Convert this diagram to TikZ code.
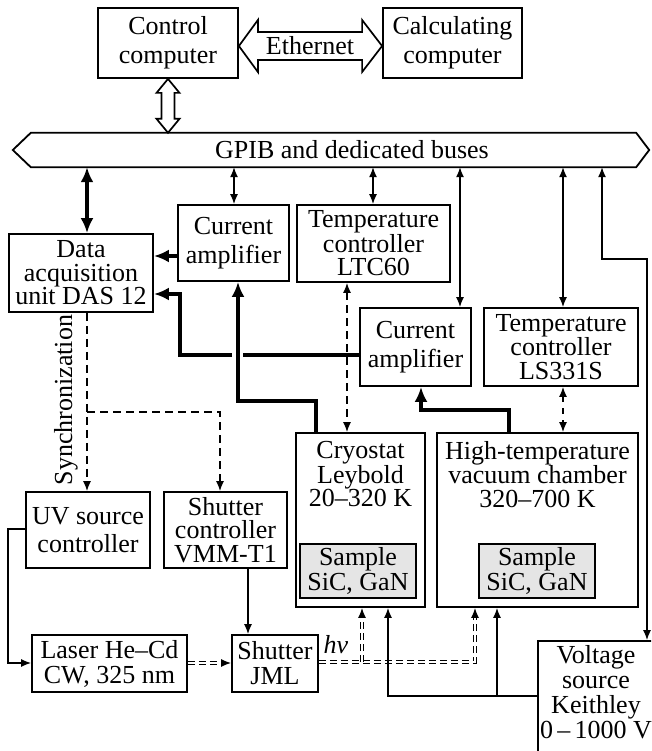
\documentclass[tikz,border=0pt]{standalone}
\usepackage{fontspec}
\setmainfont{Liberation Serif}
\usetikzlibrary{arrows.meta,calc}
\newcommand\fA{\fontsize{26}{23.5}\selectfont}
\newcommand\fB{\fontsize{26}{28.5}\selectfont}
\newcommand\fC{\fontsize{26}{25}\selectfont}
\begin{document}
\begin{tikzpicture}[x=1pt,y=-1pt,
  box/.style={draw,line width=1.8pt,align=center,inner sep=0pt,font=\fA},
  twoline/.style={font=\fB},
  thn/.style={line width=1.4pt,>={Latex[length=10pt,width=8pt]}},
  thk/.style={line width=3.8pt,>={Latex[length=15pt,width=13pt]}},
  dsh/.style={dash pattern=on 8pt off 5pt},
  dshs/.style={dash pattern=on 6pt off 6pt},
  beam/.style={double,double distance=2.2pt,line width=0.9pt,dash pattern=on 7pt off 4pt},
  hollow/.style={line width=1.7pt,fill=white,line join=miter},
  txt/.style={font=\fA,align=center,inner sep=0pt}
]
\useasboundingbox (0,0) rectangle (651,751);
\clip (0,0) rectangle (651,751);

% boxes
\node[box,twoline,minimum width=140pt,minimum height=70pt] (ctrl) at (168,43) {Control\\computer};
\node[box,twoline,minimum width=139pt,minimum height=70pt] (calc) at (452.5,43) {Calculating\\computer};
\node[txt,minimum width=605pt,minimum height=34pt] (bus) at (333.5,150) {};
\node[txt] (bustxt) at (352,150) {GPIB and dedicated buses};
\draw[line width=1.8pt] (bus.north west) -- (bus.north east) -- ($(bus.east)+(13,0)$) -- (bus.south east) -- (bus.south west) -- ($(bus.west)+(-18,0)$) -- cycle;

\node[box,minimum width=144pt,minimum height=78pt] (das) at (81,273) {Data\\acquisition\\unit DAS 12};
\node[box,twoline,minimum width=111pt,minimum height=76pt] (amp1) at (233.5,243) {Current\\amplifier};
\node[box,minimum width=153pt,minimum height=77pt] (ltc) at (373.5,243.5) {Temperature\\controller\\LTC60};
\node[box,twoline,minimum width=111pt,minimum height=78pt] (amp2) at (415.5,347) {Current\\amplifier};
\node[box,minimum width=154pt,minimum height=78pt] (ls) at (561,347) {Temperature\\controller\\LS331S};

\node[box,minimum width=129pt,minimum height=174pt] (cryo) at (360.5,520) {};
\node[txt,anchor=north] (cryotxt) at (360.5,441) {Cryostat\\Leybold\\20–320 K};
\node[box,minimum width=201pt,minimum height=174pt] (ht) at (537.5,520) {};
\node[txt,anchor=north] (httxt) at (537.5,441) {High-temperature\\vacuum chamber\\320–700 K};
\node[box,font=\fC,fill=black!10,minimum width=116pt,minimum height=54pt] (s1) at (358,571) {Sample\\SiC, GaN};
\node[box,font=\fC,fill=black!10,minimum width=116pt,minimum height=54pt] (s2) at (537,571) {Sample\\SiC, GaN};

\node[box,twoline,minimum width=124pt,minimum height=76pt] (uv) at (88,530) {UV source\\controller};
\node[box,minimum width=123pt,minimum height=76pt] (shc) at (225.5,530) {Shutter\\controller\\VMM-T1};
\node[box,font=\fC,minimum width=155pt,minimum height=57pt] (laser) at (109.5,663.5) {Laser He–Cd\\CW, 325 nm};
\node[box,font=\fC,minimum width=86pt,minimum height=57pt] (jml) at (275,663.5) {Shutter\\JML};

\node[box,minimum width=122pt,minimum height=129pt] (volt) at (599,705.5) {};
\node[txt,font=\fC,anchor=north] (volttxt) at (596,645) {Voltage\\source\\Keithley\\0\,–\,1000 V};

\node[txt] (hv) at (336,645) {\textit{hν}};
\node[txt,rotate=90] (sync) at (66,400) {Synchronization};
\node[txt] (eth) at (310,46) {};

% Ethernet hollow double arrow
\draw[hollow] (ctrl.east |- 0,46) -- ++(19,-26) -- ++(0,12) -- ($(calc.west |- 0,46)+(-20,-14)$) -- ++(0,-12) -- (calc.west |- 0,46) -- ++(-20,26) -- ++(0,-12) -- ($(ctrl.east |- 0,46)+(19,14)$) -- ++(0,12) -- cycle;
\node[txt] (ethtxt) at (310,46) {Ethernet};

% control computer <-> bus hollow arrow
\draw[hollow] (ctrl.south) -- ++(11.5,14) -- ++(-5,0) -- ($(bus.north -| ctrl.south)+(6.5,-14)$) -- ++(5,0) -- (bus.north -| ctrl.south) -- ++(-11.5,-14) -- ++(5,0) -- ($(ctrl.south)+(-6.5,14)$) -- ++(-5,0) -- cycle;

% bus connections
\draw[thk,<->] (bus.south -| 87,0) -- (das.north -| 87,0);
\draw[thn,<->] (bus.south -| 234,0) -- (amp1.north -| 234,0);
\draw[thn,<->] (bus.south -| 373,0) -- (ltc.north -| 373,0);
\draw[thn,<->] (bus.south -| 460,0) -- (amp2.north -| 460,0);
\draw[thn,<->] (bus.south -| 563,0) -- (ls.north -| 563,0);
\draw[thn,<->] (bus.south -| 602,0) |- (647,259) -- (volt.north -| 647,0);

% amplifiers to DAS
\draw[thk,->] (amp1.west |- 0,256) -- (das.east |- 0,256);
\draw[thk] (amp2.west |- 0,355) -- (243,355);
\draw[thk,->] (232,355) -| (180,294) -- (das.east |- 0,294);
\draw[thk,->] (cryo.north -| 316,0) |- (238,401) -- (amp1.south -| 238,0);
\draw[thk,->] (ht.north -| 509,0) |- (421,410) -- (amp2.south -| 421,0);

% temperature controllers
\draw[thn,dsh,<->] (ltc.south -| 347,0) -- (cryo.north -| 347,0);
\draw[thn,dshs,<->] (ls.south -| 563,0) -- (ht.north -| 563,0);

% synchronization
\draw[thn,dsh,->] (das.south -| 87,0) -- (uv.north -| 87,0);
\draw[thn,dsh,->] (87,412) -| (shc.north -| 220,0);

% UV controller -> laser, shutter controller -> shutter
\draw[thn,->] (uv.west |- 0,529) -| (8,663) -- (laser.west |- 0,663);
\draw[thn,->] (shc.south -| 248,0) -- (jml.north -| 248,0);

% light beam
\draw[beam] (laser.east |- 0,663) -- ($(jml.west |- 0,663)+(-9,0)$);
\draw[thn,->] ($(jml.west |- 0,663)+(-10,0)$) -- (jml.west |- 0,663);
\draw[beam] (jml.east |- 0,662) -| ($(ht.south -| 475,0)+(0,9)$);
\draw[thn,->] ($(ht.south -| 475,0)+(0,10)$) -- (ht.south -| 475,0);
\draw[beam] (362,662) -- ($(cryo.south -| 362,0)+(0,9)$);
\draw[thn,->] ($(cryo.south -| 362,0)+(0,10)$) -- (cryo.south -| 362,0);

% voltage source
\draw[thn,->] (volt.west |- 0,696) -| (cryo.south -| 388,0);
\draw[thn,->] (497,696) -- (ht.south -| 497,0);
\end{tikzpicture}
\end{document}
